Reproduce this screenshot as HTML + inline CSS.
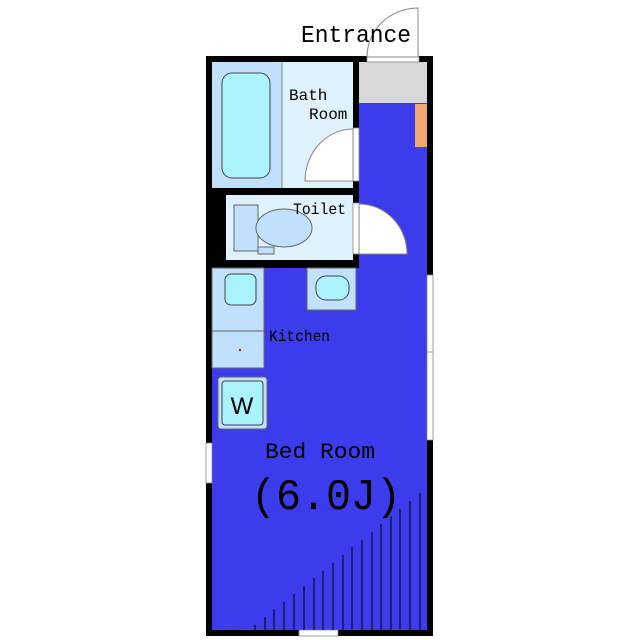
<!DOCTYPE html>
<html><head><meta charset="utf-8"><style>html,body{margin:0;padding:0;background:#fff}svg{display:block}</style></head>
<body>
<svg width="640" height="640" viewBox="0 0 640 640" xmlns="http://www.w3.org/2000/svg" font-family="Liberation Mono, DejaVu Sans Mono, monospace">
<rect x="0" y="0" width="640" height="640" fill="#fff"/>
<rect x="206" y="56" width="227" height="580" fill="#000"/>
<rect x="212" y="62" width="215" height="568" fill="#3c3cec"/>
<rect x="359" y="62" width="68" height="41" fill="#d8d8d8"/>
<rect x="415" y="104" width="12" height="43" fill="#f0a870"/>
<rect x="367" y="56" width="52" height="6" fill="#fff" stroke="#888" stroke-width="0.8"/>
<path d="M418,8 L418,57 L367,57 A51,49 0 0 1 418,8 Z" fill="#fff" stroke="#888" stroke-width="1"/>
<text x="301" y="42" font-family="Liberation Mono, monospace" font-size="24" fill="#000" textLength="110" lengthAdjust="spacingAndGlyphs">Entrance</text>
<rect x="212" y="62" width="147" height="206" fill="#000"/>
<rect x="212" y="62" width="70" height="126" fill="#c0e0fc"/>
<rect x="282" y="62" width="71" height="126" fill="#dff2fc"/>
<line x1="282" y1="62" x2="282" y2="188" stroke="#888" stroke-width="1"/>
<rect x="222" y="73" width="48" height="105" rx="10" fill="#aaf2fc" stroke="#444" stroke-width="1"/>
<text x="289" y="100" font-size="16" fill="#000">Bath</text>
<text x="309" y="119" font-size="16" fill="#000">Room</text>
<rect x="353" y="128" width="6" height="53" fill="#fff" stroke="#888" stroke-width="0.8"/>
<path d="M353,129 L353,181 L305,181 A48,52 0 0 1 353,129 Z" fill="#fff" stroke="#888" stroke-width="1"/>
<rect x="226" y="195" width="127" height="65" fill="#dff2fc"/>
<rect x="234" y="205" width="24" height="46" fill="#c0e0fc" stroke="#666" stroke-width="1"/>
<ellipse cx="284" cy="228" rx="28" ry="19" fill="#c0e0fc" stroke="#666" stroke-width="1"/>
<rect x="258" y="247" width="16" height="7" fill="#c0e0fc" stroke="#666" stroke-width="1"/>
<text x="293" y="214" font-size="16" fill="#000" textLength="53" lengthAdjust="spacingAndGlyphs">Toilet</text>
<rect x="353" y="203" width="6" height="51" fill="#fff" stroke="#888" stroke-width="0.8"/>
<path d="M359,204 L359,254 L407,254 A48,50 0 0 0 359,204 Z" fill="#fff" stroke="#888" stroke-width="1"/>
<rect x="212" y="268" width="52" height="100" fill="#c0e0fc" stroke="#666" stroke-width="1"/>
<line x1="212" y1="331" x2="264" y2="331" stroke="#666" stroke-width="1"/>
<rect x="225" y="274" width="31" height="31" rx="6" fill="#aaf2fc" stroke="#444" stroke-width="1"/>
<circle cx="240" cy="350" r="1.2" fill="#a03010"/>
<rect x="307" y="268" width="49" height="42" fill="#c0e0fc" stroke="#666" stroke-width="1"/>
<rect x="316" y="276" width="33" height="24" rx="10" fill="#aaf2fc" stroke="#444" stroke-width="1"/>
<text x="269" y="341" font-size="16" fill="#000" textLength="61" lengthAdjust="spacingAndGlyphs">Kitchen</text>
<rect x="218" y="377" width="49" height="52" rx="3" fill="#c0e0fc" stroke="#666" stroke-width="1"/>
<rect x="222" y="381" width="41" height="44" rx="3" fill="#aaf2fc" stroke="#444" stroke-width="1"/>
<text x="242" y="414" font-family="Liberation Sans, sans-serif" font-size="24" fill="#000" text-anchor="middle">W</text>
<rect x="427" y="275" width="6" height="165" fill="#fff" stroke="#888" stroke-width="0.8"/>
<line x1="427" y1="352" x2="433" y2="352" stroke="#888" stroke-width="0.8"/>
<rect x="206" y="443" width="6" height="40" fill="#fff" stroke="#888" stroke-width="0.8"/>
<rect x="299" y="630" width="39" height="6" fill="#fff" stroke="#888" stroke-width="0.8"/>
<text x="265" y="458" font-size="22" fill="#000" textLength="110" lengthAdjust="spacingAndGlyphs">Bed Room</text>
<text x="251" y="509" font-family="Liberation Mono, monospace" font-size="44" fill="#000" textLength="150" lengthAdjust="spacingAndGlyphs">(6.0J)</text>
<g stroke="#000" stroke-width="1">
<line x1="255" y1="630" x2="255" y2="625"/>
<line x1="265" y1="630" x2="265" y2="617"/>
<line x1="274" y1="630" x2="274" y2="609"/>
<line x1="284" y1="630" x2="284" y2="602"/>
<line x1="294" y1="630" x2="294" y2="594"/>
<line x1="304" y1="630" x2="304" y2="586"/>
<line x1="314" y1="630" x2="314" y2="578"/>
<line x1="323" y1="630" x2="323" y2="571"/>
<line x1="333" y1="630" x2="333" y2="563"/>
<line x1="343" y1="630" x2="343" y2="555"/>
<line x1="352" y1="630" x2="352" y2="547"/>
<line x1="362" y1="630" x2="362" y2="540"/>
<line x1="372" y1="630" x2="372" y2="532"/>
<line x1="381" y1="630" x2="381" y2="524"/>
<line x1="391" y1="630" x2="391" y2="516"/>
<line x1="400" y1="630" x2="400" y2="509"/>
<line x1="410" y1="630" x2="410" y2="501"/>
<line x1="420" y1="630" x2="420" y2="493"/>
</g>
</svg>
</body></html>
